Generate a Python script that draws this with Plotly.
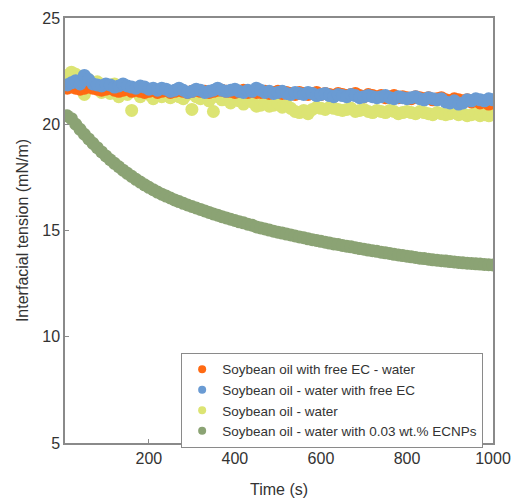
import plotly.graph_objects as go

TIME = list(range(10, 1001, 10))

FREE_EC_OIL = [21.7, 21.75, 21.7, 21.65, 21.7, 21.75, 21.7, 21.65, 21.6, 21.65,
               21.7, 21.6, 21.55, 21.6, 21.65, 21.55, 21.6, 21.55, 21.5, 21.55,
               21.6, 21.5, 21.55, 21.6, 21.5, 21.55, 21.6, 21.55, 21.5, 21.55,
               21.6, 21.55, 21.55, 21.5, 21.55, 21.6, 21.6, 21.55, 21.55, 21.5,
               21.55, 21.6, 21.5, 21.55, 21.5, 21.5, 21.55, 21.45, 21.5, 21.55,
               21.45, 21.5, 21.45, 21.4, 21.5, 21.45, 21.4, 21.45, 21.5, 21.4,
               21.45, 21.4, 21.35, 21.45, 21.4, 21.35, 21.4, 21.45, 21.35, 21.3,
               21.4, 21.35, 21.3, 21.35, 21.25, 21.3, 21.35, 21.25, 21.3, 21.25,
               21.2, 21.3, 21.25, 21.2, 21.25, 21.15, 21.2, 21.25, 21.15, 21.1,
               21.2, 21.15, 21.1, 21.15, 21.05, 21.1, 21.0, 21.05, 20.95, 21.0]

FREE_EC_WATER = [21.85, 21.95, 22.05, 21.9, 22.3, 22.1, 21.9, 21.85, 21.8, 21.9,
                 21.85, 21.75, 21.8, 21.9, 21.8, 21.75, 21.7, 21.8, 21.75, 21.65,
                 21.7, 21.6, 21.7, 21.65, 21.55, 21.6, 21.7, 21.6, 21.5, 21.55,
                 21.65, 21.6, 21.5, 21.55, 21.6, 21.7, 21.6, 21.55, 21.6, 21.65,
                 21.55, 21.5, 21.6, 21.55, 21.7, 21.6, 21.5, 21.55, 21.45, 21.5,
                 21.55, 21.45, 21.4, 21.5, 21.45, 21.4, 21.5, 21.45, 21.35, 21.4,
                 21.45, 21.35, 21.3, 21.4, 21.35, 21.3, 21.4, 21.35, 21.25, 21.3,
                 21.35, 21.3, 21.25, 21.3, 21.35, 21.25, 21.2, 21.3, 21.25, 21.2,
                 21.25, 21.3, 21.2, 21.15, 21.25, 21.2, 21.15, 21.2, 21.05, 21.0,
                 21.1, 20.95, 21.0, 21.15, 21.1, 21.2, 21.15, 21.1, 21.2, 21.15]

PLAIN = [22.3, 22.45, 22.35, 22.2, 21.4, 22.1, 21.9, 22.0, 21.5, 21.85,
         21.45, 21.9, 21.3, 21.75, 21.4, 20.65, 21.6, 21.3, 21.5, 21.4,
         21.2, 21.45, 21.3, 21.5, 21.25, 21.4, 21.3, 21.2, 21.4, 20.7,
         21.3, 21.2, 21.35, 21.1, 20.6, 21.3, 21.15, 21.25, 21.0, 21.2,
         21.1, 20.95, 21.15, 21.05, 20.85, 20.9, 21.0, 20.85, 20.9, 21.0,
         20.8, 20.9, 20.75, 20.6, 20.55, 20.65, 20.5, 20.7, 20.8, 20.75,
         20.7, 20.8, 20.75, 20.7, 20.65, 20.7, 20.75, 20.6, 20.65, 20.7,
         20.6, 20.55, 20.65, 20.6, 20.55, 20.65, 20.6, 20.5, 20.55, 20.6,
         20.55, 20.5, 20.6, 20.55, 20.5, 20.45, 20.55, 20.5, 20.45, 20.5,
         20.55, 20.45, 20.5, 20.4, 20.45, 20.5, 20.4, 20.45, 20.4, 20.45]

ECNPS = [20.40, 20.26, 20.00, 19.76, 19.53, 19.31, 19.10, 18.90, 18.70, 18.51,
         18.33, 18.16, 18.00, 17.84, 17.69, 17.55, 17.41, 17.28, 17.15, 17.03,
         16.92, 16.81, 16.71, 16.62, 16.53, 16.44, 16.36, 16.28, 16.20, 16.13,
         16.06, 15.99, 15.92, 15.85, 15.78, 15.72, 15.65, 15.59, 15.53, 15.47,
         15.41, 15.36, 15.30, 15.25, 15.17, 15.12, 15.07, 15.02, 14.97, 14.92,
         14.88, 14.83, 14.79, 14.74, 14.70, 14.66, 14.61, 14.57, 14.53, 14.49,
         14.45, 14.41, 14.37, 14.34, 14.30, 14.26, 14.23, 14.19, 14.15, 14.12,
         14.08, 14.05, 14.02, 13.98, 13.95, 13.92, 13.88, 13.85, 13.82, 13.79,
         13.76, 13.73, 13.70, 13.68, 13.65, 13.62, 13.60, 13.58, 13.56, 13.54,
         13.52, 13.50, 13.48, 13.46, 13.45, 13.43, 13.42, 13.40, 13.39, 13.38]

NAMES = ["Soybean oil with free EC - water",
         "Soybean oil - water with free EC",
         "Soybean oil - water",
         "Soybean oil - water with 0.03 wt.% ECNPs"]
COLORS = ["#FF6A13", "#6A9BD3", "#DCE473", "#8BA374"]
Y_TICKS = [5, 10, 15, 20, 25]
X_TICKS = [200, 400, 600, 800, 1000]

series = [FREE_EC_OIL, FREE_EC_WATER, PLAIN, ECNPS]
draw_order = [2, 0, 1, 3]

FONT = "Liberation Sans, Arial, sans-serif"

fig = go.Figure()
for i in draw_order:
    fig.add_trace(go.Scatter(
        x=TIME, y=series[i], mode="markers", name=NAMES[i],
        showlegend=False,
        marker=dict(color=COLORS[i], size=13, line=dict(width=0)),
    ))
# legend entries (smaller symbols, as in the original legend)
for i in range(4):
    fig.add_trace(go.Scatter(
        x=[None], y=[None], mode="markers", name=NAMES[i],
        legendrank=i + 1, showlegend=True,
        marker=dict(color=COLORS[i], size=8, line=dict(width=0)),
    ))

axis_common = dict(
    showline=True, linecolor="#8a8a8a", linewidth=1.5, mirror=True,
    ticks="inside", ticklen=4, tickcolor="#8a8a8a", tickwidth=1,
    showgrid=False, zeroline=False, automargin=False,
    tickfont=dict(family=FONT, size=16, color="#333333"),
    title_font=dict(family=FONT, size=16, color="#333333"),
)

fig.update_xaxes(range=[5, 1000], tickvals=X_TICKS, title_text="Time (s)",
                 title_standoff=18, **axis_common)
fig.update_yaxes(range=[5, 25], tickvals=Y_TICKS, title_text="Interfacial tension (mN/m)",
                 title_standoff=10, **axis_common)

fig.update_layout(
    width=519, height=503,
    margin=dict(l=57, r=34, t=10, b=68),
    plot_bgcolor="white", paper_bgcolor="white",
    legend=dict(
        x=0.977, y=0.212, xanchor="right", yanchor="top",
        bgcolor="white", bordercolor="#8a8a8a", borderwidth=1,
        font=dict(family=FONT, size=13.5, color="#333333"),
        tracegroupgap=0, itemsizing="trace",
    ),
    showlegend=True,
)

fig.write_html("out.html")
